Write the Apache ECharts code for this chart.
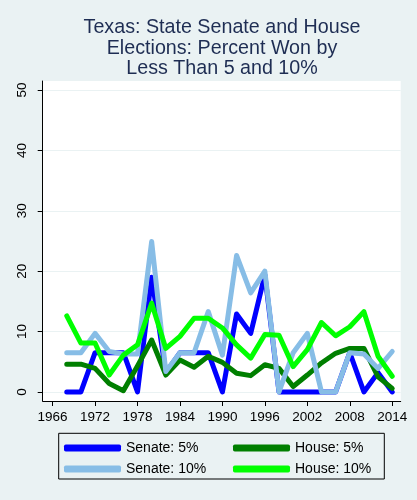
<!DOCTYPE html>
<html>
<head>
<meta charset="utf-8">
<script src="https://cdn.jsdelivr.net/npm/echarts@6/dist/echarts.min.js"></script>
<style>
html,body{margin:0;padding:0;background:#EAF2F3;}
#chart{width:417px;height:500px;}
</style>
</head>
<body>
<div id="chart"></div>
<script>
var years = [1968,1970,1972,1974,1976,1978,1980,1982,1984,1986,1988,1990,1992,1994,1996,1998,2000,2002,2004,2006,2008,2010,2012,2014];
var senate5 = [0,0,6.5,6.5,6.5,0,19.0,3.2,6.5,6.5,6.5,0,12.9,9.7,19.4,0,0,0,0,0,6.5,0,3.2,0];
var house5 = [4.6,4.6,3.9,1.4,0.2,4.3,8.6,2.8,5.3,4.1,5.9,4.9,3.1,2.7,4.5,3.9,0.9,2.8,4.8,6.4,7.2,7.2,2.5,0.6];
var senate10 = [6.5,6.5,9.7,6.7,6.3,6.3,24.9,3.4,6.5,6.5,13.3,6.1,22.6,16.4,20.0,0,6.5,9.7,0,0,6.5,6.3,3.9,6.7];
var house10 = [12.6,8.1,8.1,2.8,6.1,7.8,14.7,7.2,9.2,12.2,12.2,10.6,7.8,5.6,9.5,9.4,4.2,7.0,11.5,9.3,10.8,13.3,5.9,2.6];
var xTicks = [1966,1972,1978,1984,1990,1996,2002,2008,2014];
var yTicks = [0,10,20,30,40,50];
var seriesNames = ['Senate: 5%','House: 5%','Senate: 10%','House: 10%'];
var titleText = 'Texas: State Senate and House\nElections: Percent Won by\nLess Than 5 and 10%';

function pairs(vals){ return years.map(function(y,i){ return [y, vals[i]]; }); }
var colors = ['#0000FF','#007F00','#87BDE6','#00FF00'];
var dataSets = [senate5, house5, senate10, house10];
var FONT = 'Liberation Sans, Arial, sans-serif';

var chart = echarts.init(document.getElementById('chart'), null, {renderer:'canvas'});
chart.setOption({
  backgroundColor: '#EAF2F3',
  animation: false,
  title: {
    text: titleText,
    left: 222, top: 17.5, textAlign: 'center', padding: 0,
    textStyle: {fontFamily: FONT, fontSize: 19.7, fontWeight: 'normal', color: '#1E2D53', lineHeight: 20.6}
  },
  grid: {left: 42.7, right: 16.3, top: 81, bottom: 99, show: true, backgroundColor: '#ffffff', borderWidth: 0},
  xAxis: {
    type: 'value', min: 1964.6, max: 2015.2,
    axisLine: {show: true, onZero: false, lineStyle: {color: '#000', width: 1}},
    axisTick: {show: true, length: 5, lineStyle: {color: '#000'}, customValues: xTicks},
    axisLabel: {customValues: xTicks, margin: 9, fontFamily: FONT, fontSize: 13.5, color: '#000',
      formatter: function(v){ return String(v); }},
    splitLine: {show: false}
  },
  yAxis: {
    type: 'value', min: -1.5, max: 51.5,
    axisLine: {show: true, onZero: false, lineStyle: {color: '#000', width: 1}},
    axisTick: {show: true, length: 5, lineStyle: {color: '#000'}, customValues: yTicks},
    axisLabel: {customValues: yTicks, rotate: 90, margin: 13, fontFamily: FONT, fontSize: 13.5, color: '#000'},
    splitLine: {show: true, lineStyle: {color: '#EAF2F3', width: 1}}
  },
  legend: [
    {data: [seriesNames[0], seriesNames[2]], orient: 'vertical', left: 64, top: 441, padding: 0, itemWidth: 57, itemHeight: 7, itemGap: 7, icon: 'roundRect',
     textStyle: {fontFamily: FONT, fontSize: 14, color: '#000'}, selectedMode: false},
    {data: [seriesNames[1], seriesNames[3]], orient: 'vertical', left: 233, top: 441, padding: 0, itemWidth: 57, itemHeight: 7, itemGap: 7, icon: 'roundRect',
     textStyle: {fontFamily: FONT, fontSize: 14, color: '#000'}, selectedMode: false}
  ],
  graphic: [{type: 'rect', shape: {x: 58.7, y: 433.3, width: 325.6, height: 45.7}, style: {fill: 'none', stroke: '#000', lineWidth: 1}, z: 0}],
  series: dataSets.map(function(d,i){
    return {name: seriesNames[i], type: 'line', data: pairs(d), showSymbol: false, symbol: 'none',
      color: colors[i], lineStyle: {width: 5, color: colors[i], cap: 'round', join: 'round'}, z: 2+i};
  })
});
</script>
</body>
</html>
